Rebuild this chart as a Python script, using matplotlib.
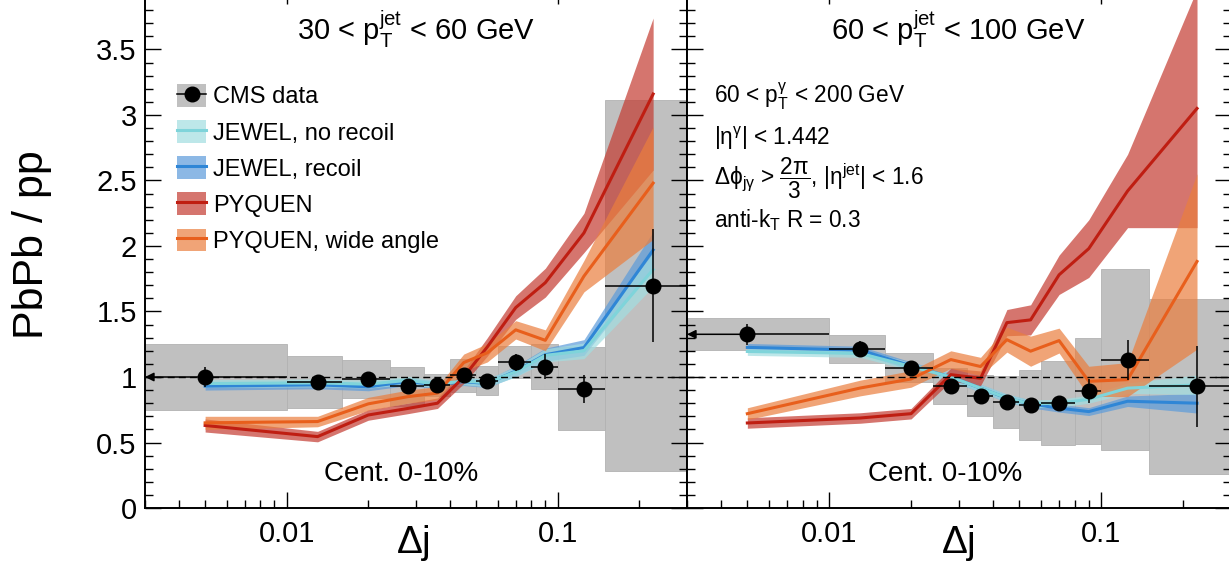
import numpy as np
import matplotlib
matplotlib.use("Agg")
import matplotlib.pyplot as plt
from matplotlib.patches import Rectangle, Patch
from matplotlib.lines import Line2D
from matplotlib.ticker import (LogLocator, MultipleLocator, NullFormatter,
                               FixedLocator, FuncFormatter)

plt.rcParams['font.family'] = ['Liberation Sans', 'DejaVu Sans']
plt.rcParams['mathtext.fontset'] = 'custom'
plt.rcParams['mathtext.rm'] = 'Liberation Sans'
plt.rcParams['mathtext.it'] = 'Liberation Sans'
plt.rcParams['mathtext.bf'] = 'Liberation Sans:bold'
plt.rcParams['mathtext.sf'] = 'Liberation Sans'
plt.rcParams['mathtext.default'] = 'regular'

# ---------------------------------------------------------------- data
bin_edges = [0.0, 0.01, 0.016, 0.024, 0.032, 0.04, 0.05, 0.06, 0.08, 0.1, 0.15, 0.3]
bin_centers = [0.005, 0.013, 0.02, 0.028, 0.036, 0.045, 0.055, 0.07, 0.09, 0.125, 0.225]

# 30 < pT(jet) < 60 GeV
cms_low = [1.00, 0.962, 0.987, 0.928, 0.94, 1.013, 0.972, 1.113, 1.079, 0.910, 1.697]
cms_low_stat = [0.08, 0.05, 0.03, 0.035, 0.035, 0.04, 0.04, 0.064, 0.093, 0.108, 0.43]
cms_low_syst = [0.25, 0.198, 0.146, 0.151, 0.085, 0.125, 0.11, 0.12, 0.17, 0.317, 1.415]

jewel_nr_low = [0.95, 0.955, 0.945, 0.975, 0.945, 0.97, 0.955, 1.04, 1.165, 1.20, 1.82]
jewel_nr_low_err = [0.03, 0.03, 0.03, 0.03, 0.03, 0.03, 0.03, 0.04, 0.05, 0.06, 0.13]
jewel_r_low = [0.93, 0.94, 0.925, 0.965, 0.94, 0.965, 0.95, 1.045, 1.17, 1.225, 1.97]
jewel_r_low_err = [0.03, 0.03, 0.03, 0.03, 0.03, 0.03, 0.03, 0.04, 0.05, 0.06, 0.14]
pyquen_low = [0.63, 0.545, 0.71, 0.76, 0.80, 1.00, 1.23, 1.53, 1.72, 2.10, 3.16]
pyquen_low_err = [0.05, 0.04, 0.04, 0.04, 0.04, 0.05, 0.07, 0.09, 0.11, 0.15, 0.58]
pyquen_wa_low = [0.65, 0.66, 0.795, 0.85, 0.877, 1.11, 1.185, 1.36, 1.28, 1.77, 2.48]
pyquen_wa_low_err = [0.05, 0.04, 0.05, 0.05, 0.05, 0.065, 0.07, 0.07, 0.08, 0.12, 0.43]

# 60 < pT(jet) < 100 GeV
cms_high = [1.326, 1.215, 1.072, 0.928, 0.856, 0.808, 0.787, 0.80, 0.895, 1.131, 0.928]
cms_high_stat = [0.08, 0.06, 0.03, 0.03, 0.03, 0.03, 0.03, 0.04, 0.093, 0.155, 0.31]
cms_high_syst = [0.122, 0.105, 0.112, 0.137, 0.157, 0.20, 0.27, 0.32, 0.405, 0.69, 0.667]

jewel_nr_high = [1.195, 1.18, 1.08, 1.0, 0.915, 0.84, 0.795, 0.80, 0.83, 0.915, 0.94]
jewel_nr_high_err = [0.03, 0.03, 0.03, 0.03, 0.03, 0.03, 0.03, 0.03, 0.03, 0.04, 0.075]
jewel_r_high = [1.226, 1.205, 1.085, 1.0, 0.915, 0.838, 0.795, 0.762, 0.736, 0.815, 0.80]
jewel_r_high_err = [0.03, 0.03, 0.03, 0.03, 0.03, 0.03, 0.03, 0.03, 0.03, 0.04, 0.075]
pyquen_high = [0.649, 0.687, 0.72, 1.018, 0.99, 1.415, 1.436, 1.78, 1.98, 2.42, 3.05]
pyquen_high_err = [0.04, 0.04, 0.04, 0.05, 0.056, 0.10, 0.115, 0.15, 0.22, 0.28, 0.91]
pyquen_wa_high = [0.72, 0.916, 0.985, 1.133, 1.08, 1.285, 1.197, 1.278, 0.967, 0.98, 1.882]
pyquen_wa_high_err = [0.045, 0.06, 0.063, 0.067, 0.07, 0.095, 0.115, 0.095, 0.115, 0.13, 0.67]

# ---------------------------------------------------------------- styles
SYS_GRAY = '#c0c0c0'
MODELS = {
    'JEWEL, no recoil': dict(band='#a2dee1', line='#7fd4da'),
    'JEWEL, recoil': dict(band='#5b9bdb', line='#2f86d6'),
    'PYQUEN': dict(band='#c43b30', line='#bf1e12'),
    'PYQUEN, wide angle': dict(band='#ea7e3e', line='#e85f1c'),
}
DRAW_ORDER = ['JEWEL, recoil', 'JEWEL, no recoil', 'PYQUEN', 'PYQUEN, wide angle']
BAND_ALPHA = 0.7

W, H = 1229, 562
fig = plt.figure(figsize=(W / 100, H / 100), dpi=100)


def fig_box(x0, y_top, x1, y_bot):
    return [x0 / W, 1 - y_bot / H, (x1 - x0) / W, (y_bot - y_top) / H]


def fp(x, y):
    return x / W, 1 - y / H


ax_l = fig.add_axes(fig_box(145, -12, 687, 508))
ax_r = fig.add_axes(fig_box(687, -12, 1231, 508))
XMIN, XMAX = 0.003, 0.3
YMAX = 520 / 131


def draw_panel(ax, cms, stat, syst, models):
    x = np.array(bin_centers)
    lo = np.array(bin_edges[:-1])
    hi = np.array(bin_edges[1:])
    # systematic boxes
    for i in range(len(x)):
        left = lo[i] if lo[i] > 0 else XMIN / 10
        ax.add_patch(Rectangle((left, cms[i] - syst[i]), hi[i] - left, 2 * syst[i],
                               facecolor=SYS_GRAY, edgecolor='#b2b2b2', lw=0.6,
                               zorder=1))
    # model bands then central lines
    for name in DRAW_ORDER:
        vals, errs = models[name]
        v = np.array(vals)
        e = np.array(errs)
        ax.fill_between(x, v - e, v + e, color=MODELS[name]['band'],
                        alpha=BAND_ALPHA, lw=0, zorder=2)
    for name in DRAW_ORDER:
        vals, _ = models[name]
        ax.plot(x, vals, color=MODELS[name]['line'], lw=2.2, zorder=3)
    # unity reference
    ax.axhline(1.0, color='black', lw=1.0, ls=(0, (5, 3)), zorder=4)
    # data points with bin-width bars
    xerr_lo = np.where(lo > 0, x - lo, 0.0)
    xerr_hi = hi - x
    ax.errorbar(x, cms, yerr=stat, xerr=[xerr_lo, xerr_hi], fmt='o', color='black',
                ms=10.5, elinewidth=1.1, capsize=0, zorder=6)
    # first bin reaches down to zero: arrow to the frame
    ax.annotate('', xy=(0.0, cms[0]), xycoords=('axes fraction', 'data'),
                xytext=(x[0], cms[0]), textcoords='data',
                arrowprops=dict(arrowstyle='-|>', color='black', lw=1.1,
                                mutation_scale=13, shrinkA=0, shrinkB=0),
                zorder=6)

    ax.set_xscale('log')
    ax.set_xlim(XMIN, XMAX)
    ax.set_ylim(0, YMAX)
    ax.xaxis.set_major_locator(FixedLocator([0.01, 0.1]))
    ax.xaxis.set_minor_locator(LogLocator(base=10, subs=np.arange(2, 10), numticks=30))
    ax.xaxis.set_minor_formatter(NullFormatter())
    ax.xaxis.set_major_formatter(FuncFormatter(lambda v, p: f"{v:g}"))
    ax.yaxis.set_major_locator(MultipleLocator(0.5))
    ax.yaxis.set_minor_locator(MultipleLocator(0.1))
    ax.yaxis.set_major_formatter(FuncFormatter(lambda v, p: f"{v:g}"))
    ax.tick_params(which='both', direction='in', top=True, right=True,
                   width=1.0, labelsize=21, color='black')
    ax.tick_params(which='major', length=11.3)
    ax.tick_params(which='minor', length=5.5)
    ax.tick_params(axis='x', pad=9)
    ax.tick_params(axis='y', pad=6)
    for sp in ax.spines.values():
        sp.set_linewidth(1.4)
        sp.set_zorder(10)


draw_panel(ax_l, cms_low, cms_low_stat, cms_low_syst, {
    'JEWEL, no recoil': (jewel_nr_low, jewel_nr_low_err),
    'JEWEL, recoil': (jewel_r_low, jewel_r_low_err),
    'PYQUEN': (pyquen_low, pyquen_low_err),
    'PYQUEN, wide angle': (pyquen_wa_low, pyquen_wa_low_err),
})
draw_panel(ax_r, cms_high, cms_high_stat, cms_high_syst, {
    'JEWEL, no recoil': (jewel_nr_high, jewel_nr_high_err),
    'JEWEL, recoil': (jewel_r_high, jewel_r_high_err),
    'PYQUEN': (pyquen_high, pyquen_high_err),
    'PYQUEN, wide angle': (pyquen_wa_high, pyquen_wa_high_err),
})
ax_r.tick_params(labelleft=False)

# legend
handles = [(Patch(facecolor=SYS_GRAY, edgecolor='none'),
            Line2D([], [], color='black', lw=1.1, marker='o', ms=10.5))]
labels = ['CMS data']
for name, st in MODELS.items():
    handles.append((Patch(facecolor=st['band'], alpha=BAND_ALPHA, edgecolor='none'),
                    Line2D([], [], color=st['line'], lw=2.2)))
    labels.append(name)
ax_l.legend(handles, labels, loc='upper left', bbox_to_anchor=fp(177, 84),
            bbox_transform=fig.transFigure, frameon=False, fontsize=17,
            handlelength=1.23, handleheight=1.1, labelspacing=0.5,
            handletextpad=0.28, borderpad=0, borderaxespad=0)

# titles and annotations
fig.text(*fp(416, 40), r"30 < $p_{T}^{jet}$ < 60 GeV", ha='center', va='baseline',
         fontsize=21)
fig.text(*fp(958, 40), r"60 < $p_{T}^{jet}$ < 100 GeV", ha='center', va='baseline',
         fontsize=21)
fig.text(*fp(401, 481), "Cent. 0-10%", ha='center', va='baseline', fontsize=20)
fig.text(*fp(945, 481), "Cent. 0-10%", ha='center', va='baseline', fontsize=20)

info = [
    (103, r"60 < $p_{T}^{\gamma}$ < 200 GeV"),
    (145, r"$|\eta^{\gamma}|$ < 1.442"),
    (186, r"$\Delta\phi_{j\gamma}$ > $\dfrac{2\pi}{3}$, $|\eta^{jet}|$ < 1.6"),
    (227, r"anti-$k_{T}$ R = 0.3"),
]
for yb, s in info:
    fig.text(*fp(714, yb), s, ha='left', va='baseline', fontsize=16.3)

fig.text(*fp(413, 553), r"$\Delta$j", ha='center', va='baseline', fontsize=28)
fig.text(*fp(958, 553), r"$\Delta$j", ha='center', va='baseline', fontsize=28)
fig.text(*fp(32, 245), "PbPb / pp", rotation=90, ha='center', va='center',
         fontsize=31)

fig.savefig('out.png', dpi=100)
